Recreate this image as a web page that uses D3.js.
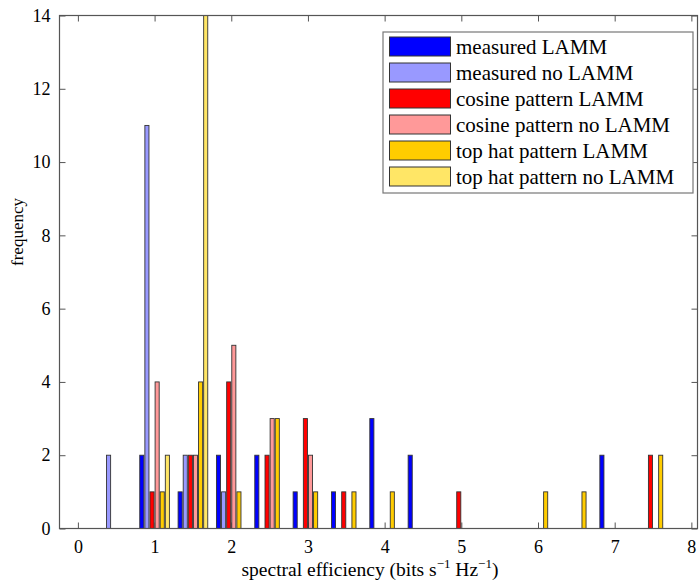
<!DOCTYPE html>
<html>
<head>
<meta charset="utf-8">
<script src="https://cdn.jsdelivr.net/npm/d3@7"></script>
<style>
  html, body { margin: 0; padding: 0; background: #fff; }
  svg { display: block; }
  text { font-family: "Liberation Serif", "Times New Roman", serif; fill: #000; }
</style>
</head>
<body>
<svg id="chart" width="700" height="586"></svg>
<script>
// ---- data ----
const bins = [0.5, 1, 1.5, 2, 2.5, 3, 3.5, 4, 4.5, 5, 5.5, 6, 6.5, 7, 7.5];
const seriesNames = [
  "measured LAMM",
  "measured no LAMM",
  "cosine pattern LAMM",
  "cosine pattern no LAMM",
  "top hat pattern LAMM",
  "top hat pattern no LAMM"
];
const measuredLAMM      = [0, 2, 1, 2, 2, 1, 1, 3, 2, 0, 0, 0, 0, 2, 0];
const measuredNoLAMM    = [2, 11, 2, 1, 0, 0, 0, 0, 0, 0, 0, 0, 0, 0, 0];
const cosineLAMM        = [0, 1, 2, 4, 2, 3, 1, 0, 0, 1, 0, 0, 0, 0, 2];
const cosineNoLAMM      = [0, 4, 2, 5, 3, 2, 0, 0, 0, 0, 0, 0, 0, 0, 0];
const topHatLAMM        = [0, 1, 4, 1, 3, 1, 1, 1, 0, 0, 0, 1, 1, 0, 2];
const topHatNoLAMM      = [0, 2, 14, 0, 0, 0, 0, 0, 0, 0, 0, 0, 0, 0, 0];
const seriesColors = ["#0000ff", "#9999ff", "#ff0000", "#ff9999", "#ffcc00", "#ffe666"];
const xTicks = [0, 1, 2, 3, 4, 5, 6, 7, 8];
const yTicks = [0, 2, 4, 6, 8, 10, 12, 14];

const seriesValues = [measuredLAMM, measuredNoLAMM, cosineLAMM, cosineNoLAMM, topHatLAMM, topHatNoLAMM];

// ---- layout ----
const svg = d3.select("#chart");
const mLeft = 59.5, mRight = 697.5, mTop = 15.5, mBottom = 528.5;
const axisColor = "#555";

const x = d3.scaleLinear().domain([-0.24, 8.08]).range([mLeft, mRight]);
const y = d3.scaleLinear().domain([0, 14]).range([mBottom, mTop]);
const sub = d3.scaleBand().domain(seriesNames).range([-0.2, 0.2]).paddingInner(0.2).paddingOuter(0.1);

// axes (ticks inward)
const gx = svg.append("g").attr("transform", `translate(0,${mBottom})`)
  .call(d3.axisBottom(x).tickValues(xTicks).tickSize(-6).tickPadding(12).tickFormat(d3.format("d")));
const gxTop = svg.append("g").attr("transform", `translate(0,${mTop})`)
  .call(d3.axisTop(x).tickValues(xTicks).tickSize(-6).tickFormat(""));
const gy = svg.append("g").attr("transform", `translate(${mLeft},0)`)
  .call(d3.axisLeft(y).tickValues(yTicks).tickSize(-6).tickPadding(9).tickFormat(d3.format("d")));
const gyR = svg.append("g").attr("transform", `translate(${mRight},0)`)
  .call(d3.axisRight(y).tickValues(yTicks).tickSize(-6).tickFormat(""));

[gx, gxTop, gy, gyR].forEach(g => {
  g.selectAll(".domain").remove();
  g.selectAll(".tick line").attr("stroke", axisColor).attr("stroke-width", 1);
  g.selectAll("text").style("font-family", '"Liberation Serif", serif').style("font-size", "18px").attr("fill", "#000");
});
gx.selectAll("text").attr("dy", "0.71em");

// bars
const barData = [];
seriesValues.forEach((vals, si) => {
  vals.forEach((v, bi) => {
    if (v > 0) barData.push({ s: seriesNames[si], si, bin: bins[bi], v });
  });
});

svg.append("g").selectAll("rect").data(barData).join("rect")
  .attr("x", d => x(d.bin + sub(d.s)))
  .attr("width", d => x(d.bin + sub(d.s) + sub.bandwidth()) - x(d.bin + sub(d.s)))
  .attr("y", d => y(d.v))
  .attr("height", d => y(0) - y(d.v))
  .attr("fill", d => seriesColors[d.si])
  .attr("stroke", "#333")
  .attr("stroke-width", 0.9);

// box
svg.append("rect").attr("x", mLeft).attr("y", mTop)
  .attr("width", mRight - mLeft).attr("height", mBottom - mTop)
  .attr("fill", "none").attr("stroke", axisColor).attr("stroke-width", 1.2);

// axis labels
const xl = svg.append("text").attr("x", 370).attr("y", 576)
  .attr("text-anchor", "middle").style("font-size", "19.5px");
xl.append("tspan").text("spectral efficiency (bits s");
xl.append("tspan").attr("dy", -8).style("font-size", "13px").text("\u22121");
xl.append("tspan").attr("dy", 8).text(" Hz");
xl.append("tspan").attr("dy", -8).style("font-size", "13px").text("\u22121");
xl.append("tspan").attr("dy", 8).text(")");

svg.append("text").attr("transform", "translate(23,232) rotate(-90)")
  .attr("text-anchor", "middle").style("font-size", "17px").text("frequency");

// legend
const lg = svg.append("g");
lg.append("rect").attr("x", 383).attr("y", 32).attr("width", 310).attr("height", 161)
  .attr("fill", "#fff").attr("stroke", "#777").attr("stroke-width", 1.2);
seriesNames.forEach((name, i) => {
  const cy = 46.5 + 26 * i;
  lg.append("rect").attr("x", 389.5).attr("y", cy - 9.5).attr("width", 61).attr("height", 19)
    .attr("fill", seriesColors[i]).attr("stroke", "#333").attr("stroke-width", 1);
  lg.append("text").attr("x", 456).attr("y", cy + 7).style("font-size", "21px").text(name);
});
</script>
</body>
</html>
